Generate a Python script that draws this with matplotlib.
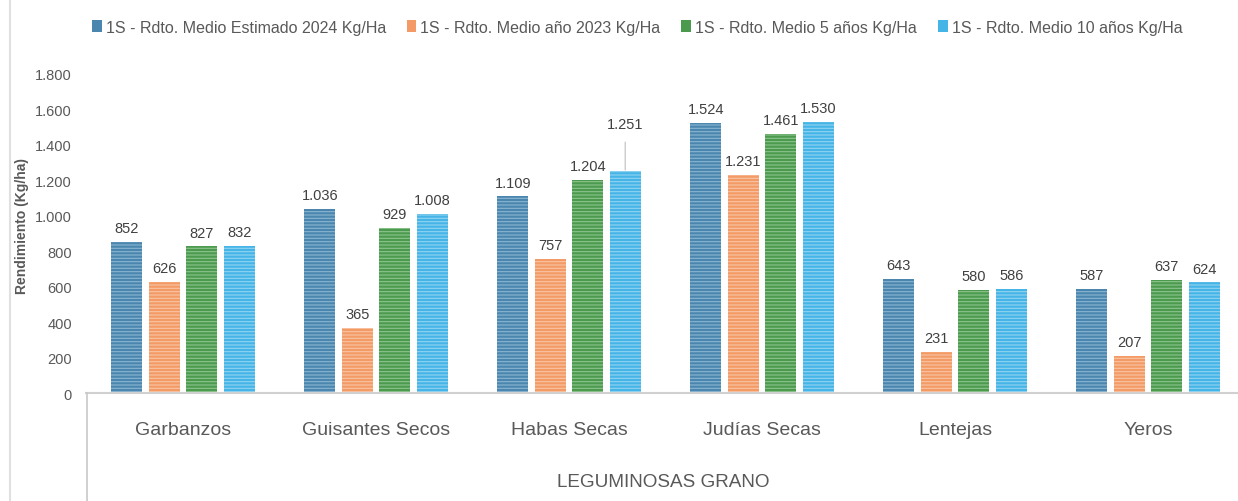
import matplotlib.pyplot as plt
import numpy as np
from matplotlib.lines import Line2D

categories = ['Garbanzos', 'Guisantes Secos', 'Habas Secas', 'Judías Secas',
              'Lentejas', 'Yeros']
series_names = ['1S - Rdto. Medio Estimado 2024 Kg/Ha',
                '1S - Rdto. Medio año 2023 Kg/Ha',
                '1S - Rdto. Medio 5 años Kg/Ha',
                '1S - Rdto. Medio 10 años Kg/Ha']
est_2024 = [852, 1036, 1109, 1524, 643, 587]
año_2023 = [626, 365, 757, 1231, 231, 207]
medio_5 = [827, 929, 1204, 1461, 580, 637]
medio_10 = [832, 1008, 1251, 1530, 586, 624]
yticks = [0, 200, 400, 600, 800, 1000, 1200, 1400, 1600, 1800]

base_cols = ['#4a86ae', '#f39a66', '#4c9a4e', '#45b4e6']
stripe_cols = ['#8bb5d2', '#f8c4a2', '#8cc48d', '#92d4f2']

FONT = ['Liberation Sans', 'DejaVu Sans']
plt.rcParams['font.family'] = FONT
plt.rcParams['hatch.linewidth'] = 0.8


def fmt(v):
    return f'{v:,}'.replace(',', '.')


fig = plt.figure(figsize=(12.38, 5.02), dpi=100)
ax_left = 86.5 / 1238
ax = fig.add_axes([ax_left, 0.215, 1.0053 - ax_left, 0.8506 - 0.215])

x = np.arange(len(categories))
width = 0.16
step = 0.194
series = [est_2024, año_2023, medio_5, medio_10]
handles = []
for i, vals in enumerate(series):
    pos = x + (i - 1.5) * step
    b = ax.bar(pos, vals, width, color=base_cols[i], linewidth=0)
    ax.bar(pos, vals, width, facecolor='none', edgecolor=stripe_cols[i],
           hatch='-----', linewidth=0)
    handles.append(b)
    for px_, v in zip(pos, vals):
        if v == 1251:
            # label moved up with a leader line, as in the original
            ax.annotate(fmt(v), (px_, v), xytext=(0, 29),
                        textcoords='offset points', ha='center', va='bottom',
                        fontsize=10.5, color='#404040',
                        arrowprops=dict(arrowstyle='-', color='#bfbfbf',
                                        lw=0.8, shrinkA=6, shrinkB=1))
        else:
            ax.annotate(fmt(v), (px_, v), xytext=(0, 5),
                        textcoords='offset points', ha='center', va='bottom',
                        fontsize=10.5, color='#404040')

ax.set_xlim(-0.5, len(categories) - 0.5)
ax.set_ylim(0, 1800)
ax.set_yticks(yticks)
ax.set_yticklabels([fmt(t) for t in yticks], fontsize=10.5, color='#595959')
ax.set_xticks(x)
ax.set_xticklabels(categories, fontsize=14, color='#595959')
ax.tick_params(axis='x', length=0, pad=20)
ax.tick_params(axis='y', length=0, pad=10.5)
for s in ['top', 'right', 'left']:
    ax.spines[s].set_visible(False)
ax.spines['bottom'].set_color('#d0d0d0')
ax.spines['bottom'].set_linewidth(1.5)

fig.text(22 / 1238, 1 - 226 / 502, 'Rendimiento (Kg/ha)', rotation=90,
         ha='center', va='center', fontsize=10, fontweight='bold',
         color='#595959')

fig.text(663 / 1238, 1 - 483 / 502, 'LEGUMINOSAS GRANO', ha='center',
         va='center', fontsize=13.6, color='#595959')

fig.add_artist(Line2D([ax_left, ax_left], [0, 0.215], color='#c8c8c8',
                      lw=1.2))
fig.add_artist(Line2D([10 / 1238, 10 / 1238], [0, 1], color='#e0e0e0',
                      lw=1.5))

leg = fig.legend(handles, series_names, loc='center', ncol=4,
                 bbox_to_anchor=(637 / 1238, 1 - 28 / 502), frameon=False,
                 prop={'size': 11.5}, handlelength=0.62, handleheight=0.85,
                 handletextpad=0.25, columnspacing=1.3)
for t in leg.get_texts():
    t.set_color('#595959')

fig.savefig('out.png', dpi=100)
